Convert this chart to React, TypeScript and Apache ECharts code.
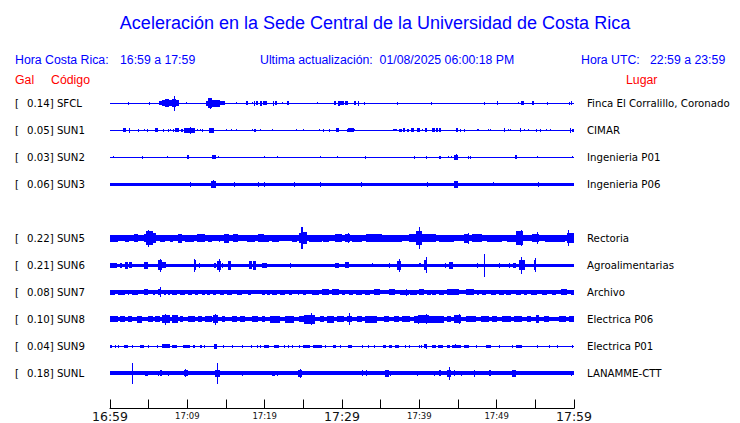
import React, { useEffect, useRef } from "react";
import * as echarts from "echarts";

// ---- Data ----
// Stations in display order (SUN4 has no data in this hour)
const codes = ["SFCL", "SUN1", "SUN2", "SUN3", "SUN4", "SUN5", "SUN6", "SUN7", "SUN8", "SUN9", "SUNL"];
const galPeaks: (number | null)[] = [0.14, 0.05, 0.03, 0.06, null, 0.22, 0.21, 0.08, 0.1, 0.04, 0.18];
const places = [
  "Finca El Corralillo, Coronado", "CIMAR", "Ingenieria P01", "Ingenieria P06", "",
  "Rectoria", "Agroalimentarias", "Archivo", "Electrica P06", "Electrica P01", "LANAMME-CTT",
];

// x axis: minutes after 16:59 (local time); ticks every 5 minutes
const tickLabels = ["16:59", "", "17:09", "", "17:19", "", "17:29", "", "17:39", "", "17:49", "", "17:59"];
const majorLabels = ["16:59", "17:29", "17:59"];

// Trace envelopes: background half-amplitude, then bursts [startMin, endMin, halfAmplitude]
// amplitudes in 1/27 of a lane
const baseAmp: (number | null)[] = [0.5, 0.5, 0.5, 1.7, null, 3.0, 1.7, 1.8, 2.3, 0.5, 1.7];

const sfcl = [[2.37,2.37,1.5],[5.1,5.1,1.2],[6.34,6.68,2],[6.68,7.11,3],[7.11,7.63,4],[7.63,7.98,3],[7.98,8.5,4],[8.31,8.31,7.5],[8.5,8.92,3],[9.87,9.87,1],[12.37,12.72,2.5],[12.72,13.15,5],[12.9,12.9,5.5],[13.15,14.22,3.5],[14.22,14.87,2],[16.3,16.3,1],[17.6,17.9,2],[18.3,18.3,1],[18.6,18.6,2.5],[18.85,19.1,2],[19.4,19.7,2.5],[19.8,20.3,2],[21.1,21.1,2.5],[21.3,21.6,2],[22.3,22.3,1],[22.85,23.1,2],[26.8,26.8,1],[29.0,29.2,2],[29.5,29.8,2.5],[29.8,30.2,2],[30.4,30.8,2],[31.5,31.8,2],[32.1,32.1,2.5],[32.8,32.8,1.5],[37.1,37.1,1.5],[41.5,41.5,1.5],[48.3,48.3,1.5],[50.1,50.1,2],[52.7,52.7,1],[53.2,53.5,2],[54.6,54.8,2],[56.5,56.5,1.5],[59.3,59.3,1.5],[59.65,59.65,2]];
const sun1 = [[1.7,2.1,2],[2.4,2.55,2.5],[3.65,3.8,1.5],[4.45,4.45,1],[4.8,4.8,1.5],[5.8,6.15,2],[6.9,6.9,1.5],[7.45,7.45,1.5],[7.8,7.8,1],[8.15,8.15,1.5],[8.4,8.9,2],[9.2,9.5,1.5],[9.6,11.0,2.5],[10.4,10.4,3.5],[11.25,11.25,1],[11.6,11.6,1],[11.85,11.85,1.5],[12.8,13.4,2.5],[14.95,14.95,1],[15.7,15.7,1],[16.35,16.35,1],[18.3,18.5,1],[18.65,18.9,1.5],[19.45,19.45,1],[21.0,21.0,1],[24.1,24.1,1],[25.0,25.0,1],[27.0,27.0,1],[27.6,27.6,1.5],[28.3,28.3,1.5],[29.2,29.55,2],[30.6,30.6,1.5],[30.8,31.5,2],[31.55,31.55,1],[36.6,37.1,1],[37.4,37.7,1.5],[37.9,38.2,2],[38.45,38.6,1.5],[38.9,39.3,2],[39.75,40.1,2],[40.4,40.4,1],[40.7,41.05,2],[41.7,42.0,2],[42.1,42.4,2],[42.6,42.8,2],[44.8,45.0,2],[45.2,45.2,1.5],[45.8,45.8,1.5],[47.5,47.7,1],[48.9,48.9,1],[49.2,49.2,1],[51.0,51.0,2],[51.5,51.5,1],[51.75,51.75,1],[53.05,53.05,2],[53.5,53.5,1],[54.1,54.1,1],[55.1,55.1,1.5],[55.55,55.55,1.5],[56.4,56.4,1],[56.85,56.85,1],[59.45,59.45,2.5],[59.7,60,1.5]];
const sun2 = [[0.4,0.4,1],[4.1,4.1,1.5],[7.4,7.55,1],[9.95,10.2,2],[13.2,13.75,2],[14.0,14.0,1],[19.9,19.9,1],[21.6,21.6,1],[27.1,27.1,1],[29.4,29.4,1],[33.0,33.0,1.5],[39.25,39.25,1.5],[40.9,41.05,1.5],[42.6,42.8,1.5],[43.65,43.8,1],[44.1,44.1,1],[44.45,45.05,2.5],[44.7,44.7,3],[46.3,46.3,1.5],[46.6,46.6,1.5],[52.4,52.6,2],[55.25,55.25,1],[59.8,59.8,1]];
const sun3 = [[10.3,10.3,2.5],[13.05,13.65,3.3],[13.35,13.35,4],[16.0,16.0,2.5],[19.2,19.2,2.5],[19.9,19.95,2.5],[23.8,23.8,2.3],[27.1,27.1,2.3],[32.4,32.4,2.2],[41.0,41.0,2.5],[44.45,44.95,3.3],[49.5,49.5,2],[55.4,55.4,2.5]];
const sun4: number[][] = [];
const sun5 = [[0,1.07,3.5],[1.95,2.4,3.5],[3.15,3.65,3.8],[4.35,4.6,4],[4.6,5.5,7],[4.95,4.95,8.3],[5.5,6.0,5],[6.45,7.1,3.5],[7.75,8.2,3.5],[8.75,9.35,4.3],[9.7,10.8,3.5],[11.2,12.3,4],[12.7,13.2,3.5],[14.1,14.1,3.5],[14.8,15.4,4.5],[15.95,16.6,4],[17.7,18.75,3.5],[19.2,19.95,4],[19.65,20.5,3.5],[20.95,21.8,3.5],[22.25,22.7,3],[23.5,24.2,3.5],[24.5,24.75,5],[24.75,25.0,11],[25.0,25.5,6],[25.7,27.4,3.5],[27.5,28.3,3.5],[29.05,30.0,4],[30.4,31.05,4],[30.75,30.75,5],[31.3,32.6,3.5],[33.1,35.2,4],[35.2,37.8,3.5],[38.6,39.55,4],[39.55,40.3,7],[39.95,39.95,11],[40.4,42.1,4],[42.55,44.5,3.5],[45.8,46.4,4.5],[46.25,46.25,5.5],[46.85,48.15,4],[48.8,50.7,3.5],[51.4,52.45,3.5],[52.55,53.4,7],[53.1,53.1,8],[54.6,55.5,4],[55.25,55.25,6],[56.3,58.9,3.5],[59.1,60,5],[59.25,59.25,8]];
const sun6 = [[0,0.85,2.5],[1.3,1.5,2.5],[1.95,2.3,3.5],[2.45,2.8,3],[4.45,4.95,3.5],[6.25,6.7,5],[6.45,6.45,6.7],[6.7,7.3,3],[10.8,11.1,5],[10.9,10.9,6.5],[11.55,11.55,2.5],[13.5,13.75,2.5],[13.9,14.35,4.5],[14.1,14.1,6.5],[14.5,14.5,2.5],[15.3,15.65,4.5],[18.0,18.3,4],[18.55,18.85,4.5],[19.6,20.25,2.5],[23.3,23.3,2.5],[29.1,29.55,2.5],[30.4,30.9,3],[33.9,33.9,2],[36.05,36.05,2.5],[37.1,37.65,4.5],[37.35,37.35,6.5],[39.9,40.25,2],[40.55,41.0,5],[40.8,40.8,8],[43.3,43.3,2.5],[43.85,44.35,3.5],[47.45,47.45,2.5],[48.4,48.4,11.5],[50.3,50.3,2.5],[51.6,51.6,2.5],[52.1,52.55,2.5],[52.9,53.65,5],[53.1,53.1,8.5],[54.8,55.05,5],[54.9,54.9,7]];
const sun7 = [[0,0.22,2.5],[0.3,0.65,2.5],[1.08,1.94,2.5],[2.28,2.46,2.5],[2.8,3.66,2.5],[4.44,4.87,3],[5.6,5.82,2.5],[6.25,6.6,3],[6.45,6.45,4.7],[7.03,7.2,2.5],[7.54,7.76,2.5],[7.97,8.62,2.5],[9.05,9.7,2.5],[10.04,10.64,2.5],[11.0,11.42,2.5],[11.85,12.28,2.5],[12.5,12.93,2.5],[13.36,13.7,2.5],[14.22,14.74,2.5],[15.08,15.73,2.5],[16.38,17.03,2.5],[17.8,18.23,2.5],[19.6,20.09,2.5],[20.3,20.73,2.5],[20.95,21.6,2.5],[22.02,22.67,2.5],[23.1,23.53,2.5],[24.31,24.48,2.5],[24.91,25.35,2.5],[26.12,26.99,2.5],[27.41,28.28,3],[28.71,29.57,3],[30.0,30.43,2.5],[30.86,31.38,2.5],[31.85,32.59,2.5],[33.02,33.66,2.5],[34.1,34.96,3],[36.04,36.9,3],[37.54,38.62,2.5],[38.28,38.28,3.5],[38.84,39.7,2.5],[39.92,40.6,3],[41.03,41.47,2.5],[41.68,42.11,2.5],[42.54,43.19,2.5],[43.62,45.13,3],[46.0,47.07,3],[47.5,47.72,2.5],[48.14,48.58,2.5],[49.23,49.88,2.5],[50.3,50.95,2.5],[51.17,51.82,2.5],[52.46,53.11,2.5],[53.54,53.97,2.5],[54.4,55.26,2.5],[55.9,56.55,2.5],[57.2,57.63,2.5],[58.28,59.14,3],[59.58,60,2.5]];
const sun8 = [[0,1.08,3],[1.29,1.94,3],[2.37,2.8,3],[3.45,4.1,3.5],[4.96,5.6,3],[5.82,6.47,3],[6.68,7.76,4],[7.1,7.1,5.5],[7.97,8.84,4],[9.05,9.48,3],[10.13,11.0,3],[11.42,11.85,3],[12.28,13.15,3],[13.36,14.0,4],[13.58,13.58,5.5],[14.44,14.87,3],[15.73,16.38,3],[16.81,17.46,3],[18.32,19.18,3],[19.61,20.09,3],[20.73,22.02,3.5],[22.67,23.75,3.5],[24.4,25.04,3],[25.04,26.55,4.5],[26.03,26.03,6],[27.2,27.63,3],[28.06,28.92,3.5],[29.35,30.22,3],[30.65,31.29,3],[30.94,30.94,6],[31.94,32.59,3],[33.02,34.53,3.5],[35.39,36.04,3],[36.69,37.33,3],[37.76,38.84,3],[39.27,40.26,3.5],[39.83,39.83,4.5],[39.96,41.25,4],[40.82,40.82,5],[41.25,43.19,3.5],[43.62,44.05,3],[44.48,45.35,4],[45.13,45.13,5],[46.0,47.29,3],[47.93,49.01,3],[49.44,50.08,3],[50.73,51.82,3],[52.24,53.32,3],[53.97,54.4,3],[55.05,55.48,4],[56.12,56.77,3],[58.06,58.93,3],[59.36,60,3]];
const sun9 = [[0,0.22,1.5],[0.65,0.65,1.5],[1.08,1.08,1.5],[1.85,2.37,1.5],[2.8,2.8,1.5],[3.88,4.44,1.5],[4.96,4.96,1.5],[6.03,6.25,1.5],[6.68,7.76,2],[7.97,8.62,1.5],[9.48,10.34,1.5],[10.78,11.0,1.5],[11.64,11.85,1.5],[12.2,12.2,1.5],[13.49,13.79,2.5],[14.66,14.66,1.5],[15.73,15.73,1.5],[17.03,17.03,1.5],[18.23,18.23,1.5],[18.97,18.97,1.5],[19.4,19.4,1.5],[19.87,20.52,1.5],[21.17,21.81,1.5],[22.46,22.46,1.5],[23.02,23.02,1.5],[23.53,23.53,1.5],[24.48,24.48,1.5],[24.91,25.9,1.5],[26.3,27.41,1.5],[27.85,27.85,1.5],[28.8,29.23,1.5],[29.79,29.79,1.5],[30.78,31.29,1.5],[32.59,32.59,1.5],[33.36,33.36,1.5],[34.1,34.1,1.5],[35.26,35.69,1.5],[36.12,36.47,1.5],[36.9,37.33,1.5],[38.19,38.19,1.5],[38.62,38.62,1.5],[39.92,39.92,1.5],[40.17,40.17,1.5],[40.6,41.03,2],[40.82,40.82,2.5],[41.68,42.11,1.5],[42.46,43.06,1.5],[43.62,43.92,1.5],[44.27,45.35,1.5],[44.6,44.6,2],[45.78,46.42,1.5],[47.37,47.37,1.5],[48.58,49.23,1.5],[50.3,50.3,1.5],[52.03,52.03,1.5],[52.46,53.24,1.5],[55.26,55.26,1.5],[56.77,56.77,1.5],[57.85,57.85,1.5],[59.79,59.79,1.5]];
const sunl = [[0,0.3,2],[2.8,2.8,10.5],[3.66,3.66,2],[4.53,4.87,2.5],[6.25,6.25,2.5],[6.47,6.68,3],[7.54,7.54,2.5],[8.4,8.4,2],[9.61,10.04,3],[9.75,9.75,4],[11.0,11.0,2],[11.85,11.85,2],[13.58,14.22,3.5],[13.88,13.88,10.5],[15.08,15.08,2],[17.03,17.03,2.5],[18.32,20.04,2],[20.95,21.38,2.5],[21.6,21.6,2.5],[24.31,24.83,3.5],[24.61,24.61,4.5],[28.06,28.06,2],[30.65,30.65,2],[32.59,32.59,3],[33.1,33.1,3],[35.52,36.04,3.5],[36.25,36.25,2.5],[39.7,39.7,2.5],[41.9,41.9,2.5],[42.54,42.76,3],[43.62,44.05,3.5],[43.84,43.84,6.5],[44.48,44.48,3],[45.35,45.35,2.5],[47.07,47.07,3.5],[49.01,49.23,3],[52.03,52.46,3.5],[59.58,59.58,2.5]];

const bursts = [sfcl, sun1, sun2, sun3, sun4, sun5, sun6, sun7, sun8, sun9, sunl];

// header texts
const titleText = "Aceleración en la Sede Central de la Universidad de Costa Rica";
const localRange = "16:59 a 17:59";
const utcRange = "22:59 a 23:59";
const lastUpdate = "01/08/2025 06:00:18 PM";

const LANE_UNITS = 27;
const BLUE = "#0000ff";
const HEAD_FONT = "'Liberation Sans', Arial, sans-serif";
const LABEL_FONT = "'DejaVu Sans', sans-serif";

function buildData() {
  const out: number[][] = [];
  codes.forEach((_, i) => {
    const b = baseAmp[i];
    if (b == null) return;
    out.push([0, 60, i, b]);
    bursts[i].forEach((e) => out.push([e[0], e[1], i, e[2]]));
  });
  return out;
}

export default function App() {
  const ref = useRef<HTMLDivElement>(null);
  useEffect(() => {
    const chart = echarts.init(ref.current!, null, { renderer: "svg" });
    const headText = (text: string, x: number, y: number, fill: string, size = 12.3, align = "left") => ({
      type: "text",
      x,
      y,
      style: { text, fill, fontSize: size, fontFamily: HEAD_FONT, align, verticalAlign: "middle" },
    });
    const option: any = {
      animation: false,
      backgroundColor: "#ffffff",
      grid: { left: 110, width: 464, top: 90, height: 297, containLabel: false },
      xAxis: {
        type: "value",
        min: 0,
        max: 60,
        interval: 5,
        offset: 22,
        splitLine: { show: false },
        axisLine: { show: true, lineStyle: { color: "#000", width: 1 } },
        axisTick: { show: true, inside: true, length: 9, lineStyle: { color: "#000" } },
        axisLabel: {
          margin: 0,
          showMinLabel: true,
          showMaxLabel: true,
          formatter: (v: number) => {
            const s = tickLabels[Math.round(v / 5)] || "";
            if (!s) return "";
            return majorLabels.includes(s) ? `{big|${s}}` : `{small|${s}}`;
          },
          rich: {
            big: { fontSize: 12.5, lineHeight: 16, fontFamily: LABEL_FONT, color: "#111" },
            small: { fontSize: 8.5, lineHeight: 14, fontFamily: LABEL_FONT, color: "#111" },
          },
        },
      },
      yAxis: [
        {
          type: "category",
          data: codes,
          inverse: true,
          axisLine: { show: false },
          axisTick: { show: false },
          splitLine: { show: false },
          axisLabel: {
            align: "left",
            margin: 95,
            formatter: (_v: string, i: number) => {
              const g = galPeaks[i];
              if (g == null) return "";
              return `{a|[}{b|${g.toFixed(2)}] ${codes[i]}}`;
            },
            rich: {
              a: { width: 12, fontSize: 10.2, fontFamily: LABEL_FONT, color: "#000" },
              b: { fontSize: 10.2, fontFamily: LABEL_FONT, color: "#000" },
            },
          },
        },
        {
          type: "category",
          data: codes,
          inverse: true,
          position: "right",
          axisLine: { show: false },
          axisTick: { show: false },
          splitLine: { show: false },
          axisLabel: {
            margin: 13,
            fontSize: 10.2,
            fontFamily: LABEL_FONT,
            color: "#000",
            formatter: (_v: string, i: number) => (galPeaks[i] == null ? "" : places[i]),
          },
        },
      ],
      series: [
        {
          type: "custom",
          xAxisIndex: 0,
          yAxisIndex: 0,
          encode: { x: [0, 1], y: 2 },
          data: buildData(),
          renderItem: (_p: any, api: any) => {
            const t0 = api.value(0);
            const t1 = api.value(1);
            const row = api.value(2);
            const amp = api.value(3);
            const a = api.coord([t0, row]);
            const b = api.coord([t1, row]);
            const lane = api.size([0, 1])[1];
            const half = (amp * lane) / LANE_UNITS;
            const x0 = Math.round(a[0]);
            const x1 = Math.max(x0 + 1, Math.round(b[0]));
            const y0 = Math.round(a[1] - half);
            const y1 = Math.max(y0 + 1, Math.round(a[1] + half));
            return {
              type: "rect",
              shape: { x: x0, y: y0, width: x1 - x0, height: y1 - y0 },
              style: { fill: BLUE },
            };
          },
        },
      ],
      graphic: [
        headText(titleText, 375, 23, BLUE, 18, "center"),
        headText("Hora Costa Rica:", 15, 60, BLUE),
        headText(localRange, 120, 60, BLUE),
        headText("Ultima actualización:  " + lastUpdate, 260, 60, BLUE),
        headText("Hora UTC:", 581, 60, BLUE),
        headText(utcRange, 650, 60, BLUE),
        headText("Gal", 15, 80, "#ff0000"),
        headText("Código", 51, 80, "#ff0000"),
        headText("Lugar", 626, 80, "#ff0000"),
      ],
    };
    chart.setOption(option);
    return () => chart.dispose();
  }, []);
  return (
    <div
      ref={ref}
      style={{ position: "fixed", left: 0, top: 0, width: 740, height: 423, background: "#fff" }}
    />
  );
}
